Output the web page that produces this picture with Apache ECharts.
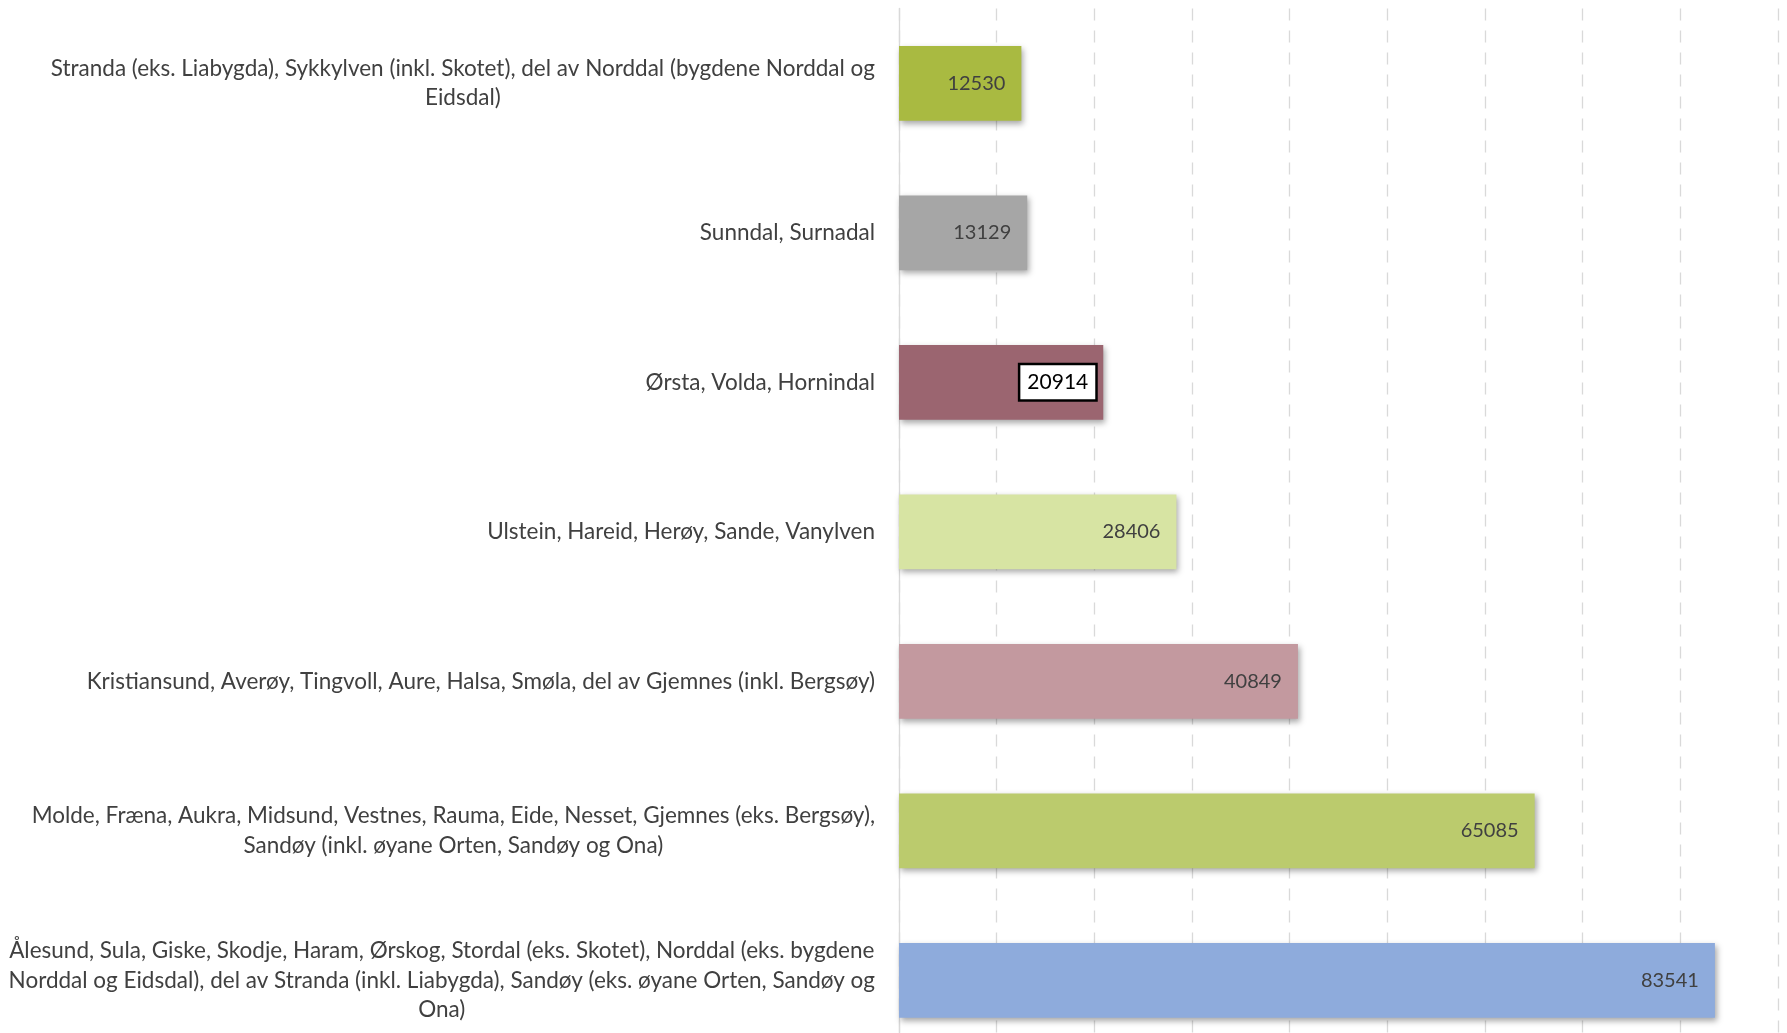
<!DOCTYPE html>
<html>
<head>
<meta charset="utf-8">
<script src="https://cdn.jsdelivr.net/npm/echarts@6/dist/echarts.min.js"></script>
<style>html,body{margin:0;padding:0;background:#fff;overflow:hidden;}#c{width:1787px;height:1055px;}</style>
</head>
<body>
<div id="c"></div>
<script>
const categories = [
  "Stranda (eks. Liabygda), Sykkylven (inkl. Skotet), del av Norddal (bygdene Norddal og\nEidsdal)",
  "Sunndal, Surnadal",
  "Ørsta, Volda, Hornindal",
  "Ulstein, Hareid, Herøy, Sande, Vanylven",
  "Kristiansund, Averøy, Tingvoll, Aure, Halsa, Smøla, del av Gjemnes (inkl. Bergsøy)",
  "Molde, Fræna, Aukra, Midsund, Vestnes, Rauma, Eide, Nesset, Gjemnes (eks. Bergsøy),\nSandøy (inkl. øyane Orten, Sandøy og Ona)",
  "Ålesund, Sula, Giske, Skodje, Haram, Ørskog, Stordal (eks. Skotet), Norddal (eks. bygdene\nNorddal og Eidsdal), del av Stranda (inkl. Liabygda), Sandøy (eks. øyane Orten, Sandøy og\nOna)"
];
const values = [12530, 13129, 20914, 28406, 40849, 65085, 83541];
const barColors = ["#A9BA41", "#A6A6A6", "#9B6570", "#D7E4A3", "#C3999F", "#BBCB6D", "#8EABDC"];
const boxedIndex = 2;

const chart = echarts.init(document.getElementById('c'));
const data = values.map((v, i) => {
  const d = { value: v, itemStyle: { color: barColors[i] } };
  if (i === boxedIndex) {
    d.label = {
      color: '#000', backgroundColor: '#fff', borderColor: '#000', borderWidth: 2.5,
      padding: [7, 7, 6, 7], distance: 8, fontSize: 21
    };
  }
  return d;
});
chart.setOption({
  animation: false,
  backgroundColor: '#fff',
  grid: { left: 899, right: 9, top: 8.5, bottom: 0, containLabel: false },
  xAxis: {
    type: 'value', min: 0, max: 90000, interval: 10000,
    axisLabel: { show: false }, axisTick: { show: false }, axisLine: { show: false },
    splitLine: { show: true, lineStyle: { color: '#D9D9D9', width: 1.3, type: [12, 10] } }
  },
  yAxis: {
    type: 'category', inverse: true, data: categories,
    axisTick: { show: false },
    axisLine: { show: true, lineStyle: { color: '#D9D9D9', width: 1.3 } },
    axisLabel: {
      margin: 24, color: '#404040', fontFamily: 'Lato', fontSize: 22.5, lineHeight: 29.6,
      formatter: v => v.split('\n').map(l => '{c|' + l + '}').join('\n'),
      rich: { c: { align: 'center', fontFamily: 'Lato', fontSize: 22.5, lineHeight: 29.6, color: '#404040' } }
    }
  },
  series: [{
    type: 'bar', data: data, barCategoryGap: '50%',
    itemStyle: { shadowColor: 'rgba(0,0,0,0.35)', shadowBlur: 6, shadowOffsetX: 2, shadowOffsetY: 3 },
    label: {
      show: true, position: 'insideRight', distance: 16, color: '#404040',
      fontFamily: 'Lato', fontSize: 20
    }
  }]
});
</script>
</body>
</html>
